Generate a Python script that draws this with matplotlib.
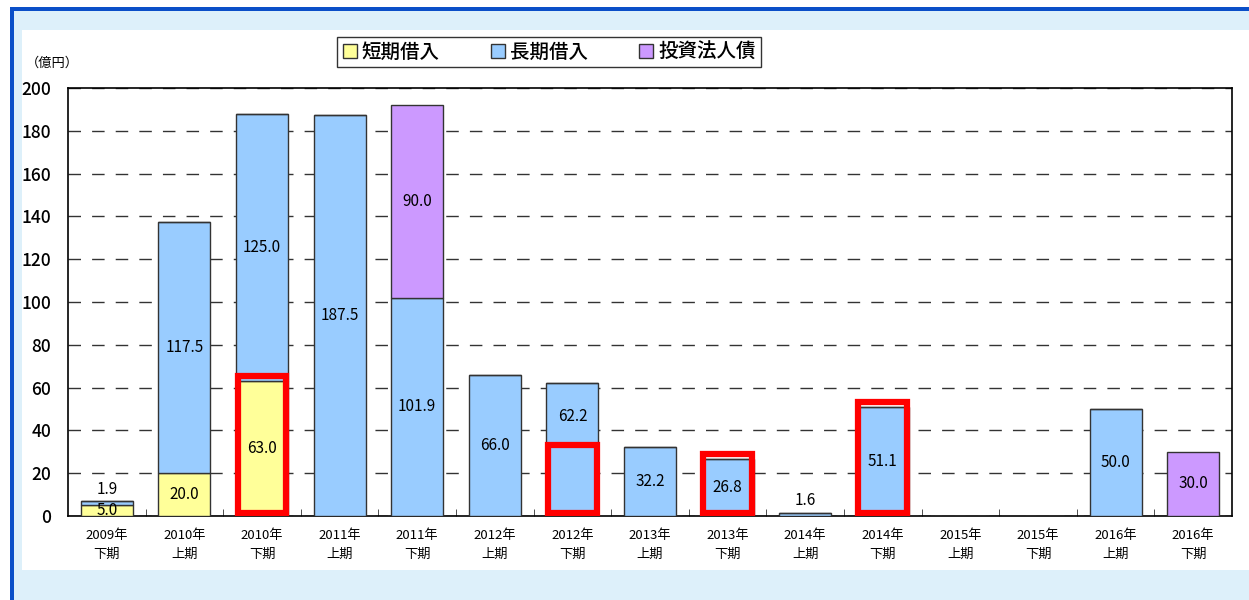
import matplotlib
matplotlib.use("Agg")
import matplotlib.pyplot as plt
from matplotlib.patches import Rectangle
import numpy as np

plt.rcParams['font.family'] = ['Noto Sans CJK JP', 'DejaVu Sans']

categories = ["2009年\n下期", "2010年\n上期", "2010年\n下期", "2011年\n上期", "2011年\n下期",
              "2012年\n上期", "2012年\n下期", "2013年\n上期", "2013年\n下期", "2014年\n上期",
              "2014年\n下期", "2015年\n上期", "2015年\n下期", "2016年\n上期", "2016年\n下期"]
short_term = [5.0, 20.0, 63.0, 0, 0, 0, 0, 0, 0, 0, 0, 0, 0, 0, 0]
long_term = [1.9, 117.5, 125.0, 187.5, 101.9, 66.0, 62.2, 32.2, 26.8, 1.6, 51.1, 0, 0, 50.0, 0]
bonds = [0, 0, 0, 0, 90.0, 0, 0, 0, 0, 0, 0, 0, 0, 0, 30.0]
# highlighted (red frame) amounts per period, None = no frame
highlight = [None, None, 63.0, None, None, None, 31.1, None, 26.8, None, 51.1, None, None, None, None]
series_names = ["短期借入", "長期借入", "投資法人債"]
colors = ["#FFFF99", "#99CCFF", "#CC99FF"]

W, H = 1249, 600
fig = plt.figure(figsize=(W / 100, H / 100), dpi=100)
fig.patch.set_facecolor("white")

# frame: blue border, light blue background, white panel
for (x0, y0, w, h, c) in [(10 / W, 0, 1, (H - 7) / H, "#0A4FC8"),
                          (14 / W, 0, 1, (H - 11) / H, "#DDF0FA"),
                          (22 / W, (H - 570) / H, 1, (570 - 30) / H, "white")]:
    r = Rectangle((x0, y0), w, h, transform=fig.transFigure, facecolor=c, edgecolor="none", zorder=-10)
    fig.patches.append(r)

ax = fig.add_axes([68 / W, 1 - 516 / H, (1232 - 68) / W, (516 - 88) / H])
ax.set_zorder(1)
ax.set_facecolor("white")

x = np.arange(len(categories))
bw = 0.67
s = np.array(short_term)
l = np.array(long_term)
b = np.array(bonds)

ax.bar(x, s, bw, color=colors[0], edgecolor="#333333", linewidth=1, zorder=3, label=series_names[0])
ax.bar(x, l, bw, bottom=s, color=colors[1], edgecolor="#333333", linewidth=1, zorder=3, label=series_names[1])
ax.bar(x, b, bw, bottom=s + l, color=colors[2], edgecolor="#333333", linewidth=1, zorder=3, label=series_names[2])

# value labels
for i in range(len(x)):
    bottom = 0
    hl = highlight[i]
    for vals in (s, l, b):
        v = vals[i]
        if v > 0:
            top = bottom + v
            if v < 3:
                ax.text(x[i], top + 1.5, f"{v:.1f}", ha="center", va="bottom", fontsize=11, zorder=6)
            else:
                lo = bottom
                if hl is not None and bottom < hl < top - 1:
                    lo = hl  # center label in the part not covered by red frame
                ax.text(x[i], (lo + top) / 2, f"{v:.1f}", ha="center", va="center", fontsize=11, zorder=6)
        bottom += v

# red highlight frames
for i, h in enumerate(highlight):
    if h is not None:
        ax.add_patch(Rectangle((x[i] - bw / 2 + 0.02, 1.6), bw - 0.04, h + 0.6,
                               fill=False, edgecolor="#FF0000", linewidth=4.5, zorder=5))

ax.set_xlim(-0.5, len(categories) - 0.5)
ax.set_ylim(0, 200)
ax.set_yticks(np.arange(0, 201, 20))
ax.yaxis.grid(True, linestyle=(0, (9, 8)), color="#333333", linewidth=1, zorder=1)
ax.set_axisbelow(True)
ax.tick_params(axis="y", length=0, labelsize=12.5, pad=12)
for t in ax.get_yticklabels():
    t.set_fontweight("medium")
ax.set_xticks(x)
ax.set_xticklabels(categories, fontsize=9.5, linespacing=1.6)
ax.tick_params(axis="x", length=0, pad=9)
ax.set_xticks(np.arange(0.5, len(categories) - 0.5, 1), minor=True)
ax.tick_params(axis="x", which="minor", direction="in", length=5, color="#333333")
for sp in ax.spines.values():
    sp.set_color("black")
    sp.set_linewidth(1.2)

fig.text(26 / W, 1 - 63 / H, "（億円）", fontsize=9.5, va="center", ha="left")

leg = ax.legend(loc="center", bbox_to_anchor=((333 + 765) / 2 / W, 1 - 52 / H),
                bbox_transform=fig.transFigure, ncol=3, frameon=True, fancybox=False,
                fontsize=14, handlelength=0.75, handleheight=0.75, handletextpad=0.25,
                columnspacing=2.6, borderpad=0.3, borderaxespad=0)
leg.get_frame().set_edgecolor("black")
leg.get_frame().set_linewidth(1)
for t in leg.get_texts():
    t.set_fontweight("medium")

fig.savefig("out.png", dpi=100, facecolor=fig.get_facecolor())
